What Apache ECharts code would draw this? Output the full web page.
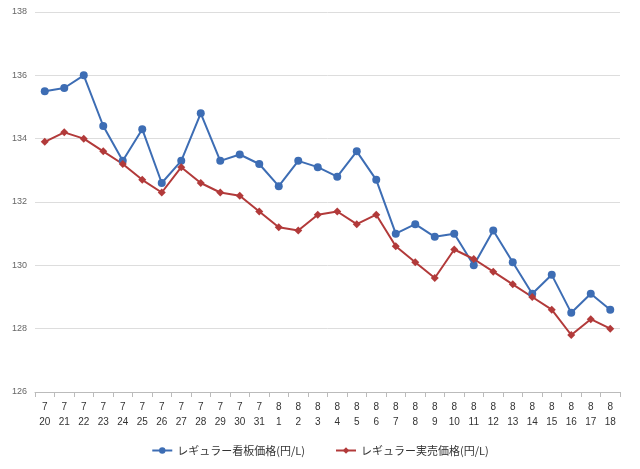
<!DOCTYPE html>
<html>
<head>
<meta charset="UTF-8">
<style>html,body{margin:0;background:#fff}#chart{width:640px;height:469px}</style>
</head>
<body>
<script src="https://cdn.jsdelivr.net/npm/echarts@6/dist/echarts.min.js"></script>
<div id="chart"></div>
<script>
var months = ['7','7','7','7','7','7','7','7','7','7','7','7','8','8','8','8','8','8','8','8','8','8','8','8','8','8','8','8','8','8']
var days = [20,21,22,23,24,25,26,27,28,29,30,31,1,2,3,4,5,6,7,8,9,10,11,12,13,14,15,16,17,18]
var signPrice = [135.5,135.6,136.0,134.4,133.3,134.3,132.6,133.3,134.8,133.3,133.5,133.2,132.5,133.3,133.1,132.8,133.6,132.7,131.0,131.3,130.9,131.0,130.0,131.1,130.1,129.1,129.7,128.5,129.1,128.6]
var actualPrice = [133.9,134.2,134.0,133.6,133.2,132.7,132.3,133.1,132.6,132.3,132.2,131.7,131.2,131.1,131.6,131.7,131.3,131.6,130.6,130.1,129.6,130.5,130.2,129.8,129.4,129.0,128.6,127.8,128.3,128.0]
var categories = months.map(function (m, i) { return m + '\n' + days[i] })

var chart = echarts.init(document.getElementById('chart'))
chart.setOption({
  animation: false,
  backgroundColor: '#fff',
  grid: { left: 35, right: 20, top: 12, bottom: 77 },
  legend: {
    bottom: 8,
    itemGap: 30,
    itemWidth: 20,
    itemHeight: 8,
    textStyle: { fontSize: 11, color: '#333', fontFamily: 'Noto Sans CJK JP' },
    data: ['レギュラー看板価格(円/L)', 'レギュラー実売価格(円/L)']
  },
  xAxis: {
    type: 'category',
    boundaryGap: true,
    data: categories,
    axisLine: { lineStyle: { color: '#bbb' } },
    axisTick: { show: true, lineStyle: { color: '#bbb' } },
    axisLabel: { color: '#333', fontSize: 10, lineHeight: 15, interval: 0 }
  },
  yAxis: {
    type: 'value',
    min: 126, max: 138, interval: 2,
    axisLine: { show: false },
    axisLabel: { color: '#666', fontSize: 9 },
    splitLine: { lineStyle: { color: '#ddd' } }
  },
  series: [
    {
      name: 'レギュラー看板価格(円/L)', type: 'line', data: signPrice,
      color: '#3d6db4', symbol: 'circle', symbolSize: 8,
      lineStyle: { width: 2 }
    },
    {
      name: 'レギュラー実売価格(円/L)', type: 'line', data: actualPrice,
      color: '#b23a3a', symbol: 'diamond', symbolSize: 8,
      lineStyle: { width: 2 }
    }
  ]
})
</script>
</body>
</html>
